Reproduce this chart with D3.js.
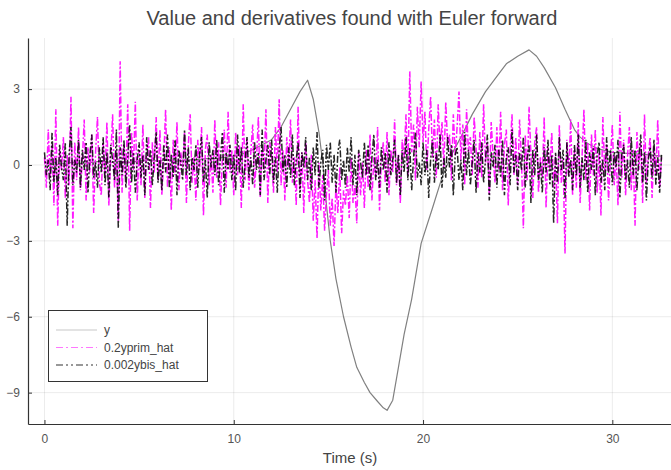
<!DOCTYPE html>
<html>
<head>
<meta charset="utf-8">
<script src="https://cdn.jsdelivr.net/npm/d3@7"></script>
<style>
  body { margin: 0; background: #fff; }
  text { font-family: "Liberation Sans", Arial, sans-serif; }
</style>
</head>
<body>
<div id="my_dataviz"></div>
<script>
// time step of the noisy series (s)
var dt = 0.1;

// y : times and values
var yTimes = [0, 0.5, 1, 1.5, 2, 2.5, 3, 3.5, 4, 4.5, 5, 5.5, 6, 6.5, 7, 7.5, 8, 8.5, 9, 9.5,
    10, 10.5, 11, 11.5, 12, 12.5, 13, 13.5, 13.9, 14.2, 14.5, 14.7, 14.9, 15.1, 15.4, 15.8,
    16.2, 16.5, 16.9, 17.2, 17.6, 17.9, 18.1, 18.4, 18.7, 19.0, 19.4, 19.9, 20.5, 21.0, 21.5,
    22.0, 22.6, 23.3, 24.0, 24.4, 25.0, 25.6, 26.0, 26.4, 27.0, 27.5, 28.0, 28.3, 28.7, 29.2,
    30, 31, 32, 32.6];
var yValues = [0.1, 0.0, 0.05, 0.1, 0.05, 0.1, 0.15, 0.1, 0.15, 0.1, 0.15, 0.2, 0.15, 0.2, 0.15, 0.2, 0.2, 0.25, 0.25, 0.3,
    0.35, 0.45, 0.6, 0.8, 1.0, 1.5, 2.2, 2.9, 3.35, 2.6, 1.3, 0.1, -1.6, -3.0, -4.5, -6.0,
    -7.2, -8.0, -8.6, -9.0, -9.35, -9.6, -9.7, -9.3, -8.0, -6.7, -5.3, -3.1, -1.7, -0.5, 0.4,
    1.1, 2.0, 2.9, 3.6, 4.0, 4.3, 4.55, 4.3, 3.85, 3.05, 2.2, 1.4, 1.1, 0.85, 0.65,
    0.5, 0.45, 0.4, 0.35];

// 0.2yprim_hat : one row per second
var yprimValues = [
    0.3, -0.9, 1.4, -0.5, 0.8, -1.6, 2.2, -2.4, 0.6, -0.2,
    1.1, -1.3, 0.4, -0.8, 2.7, -2.5, 0.9, -0.6, 1.5, -1.0,
    0.2, 1.8, -1.4, 0.7, -0.3, 1.2, -1.9, 0.5, 1.9, -0.7,
    -1.2, 0.9, -0.4, 1.7, -1.6, 0.3, 2.0, -0.9, 0.6, -2.2,
    4.1, -1.1, 0.8, -0.5, 2.4, -2.6, 1.3, -0.2, 2.5, -1.4,
    0.6, -0.8, 1.6, -1.3, 0.4, 1.1, -1.7, 0.9, -0.3, 1.9,
    -0.6, 1.4, -1.2, 0.2, 2.2, -0.9, 0.7, -1.8, 1.0, -0.4,
    1.7, -1.0, 0.5, -0.1, 1.3, -1.5, 0.8, 2.0, -0.7, 0.3,
    -1.4, 1.0, -0.2, 1.5, -2.0, 0.6, 1.2, -0.8, 0.4, -1.1,
    1.8, -0.5, 0.9, -1.6, 0.3, 1.4, -0.9, 2.1, -0.3, 0.6,
    -1.2, 1.3, -0.4, 0.8, -1.7, 2.4, -0.6, 1.0, -1.0, 0.5,
    1.6, -0.9, 0.2, 1.9, -1.3, 0.7, -0.2, 2.2, -1.5, 0.9,
    0.4, -1.1, 1.5, -0.3, 2.6, -0.8, 0.6, -1.4, 1.1, -0.1,
    1.8, -0.7, 0.3, -1.6, 2.3, -1.0, 0.5, -1.9, 0.9, -0.6,
    -1.5, 0.4, -2.2, -0.6, -2.9, 0.1, -1.8, -0.4, -2.6, -1.1,
    -0.2, -2.4, -1.3, -3.2, -0.7, -1.9, -0.1, -2.7, -1.0, -1.6,
    -0.4, -2.1, 0.3, -1.5, -0.8, -2.3, 0.5, -1.2, 0.1, -1.7,
    0.6, -0.9, 1.2, -1.4, 0.3, -0.5, 1.5, -1.8, 0.2, 0.9,
    -0.7, 1.3, -1.2, 0.6, -0.3, 1.8, -0.8, 0.4, -1.5, 1.0,
    0.3, 2.0, -0.4, 3.7, 0.5, 1.6, -0.6, 2.3, 0.7, 3.3,
    0.9, 2.1, -0.2, 1.4, 2.7, 0.3, 1.8, -0.5, 2.4, 0.6,
    1.7, -0.1, 2.5, 0.8, 1.2, -0.6, 2.0, 0.4, 1.5, 2.9,
    0.2, 1.6, -0.8, 2.2, 0.5, 1.1, -0.4, 1.9, 0.7, -0.9,
    1.3, -0.5, 2.4, 0.1, 0.9, -1.2, 1.7, 0.4, -0.7, 1.5,
    -0.3, 2.1, -1.0, 0.8, 1.4, -1.6, 0.6, 2.0, -0.4, 1.1,
    -0.8, 1.8, 0.2, -2.5, 1.2, -0.6, 2.3, 0.4, -1.3, 0.9,
    1.5, -1.1, 0.3, -0.5, 1.9, -1.7, 0.7, -0.2, 1.3, -0.9,
    0.4, -2.3, 1.6, -0.7, 0.2, -3.5, 1.0, -0.4, 1.8, -1.2,
    0.6, -0.9, 1.7, -1.5, 0.3, 2.2, -0.6, 0.9, -1.8, 1.2,
    -0.4, 1.4, -1.1, 0.5, -2.0, 1.9, -0.3, 0.8, -1.4, 0.2,
    1.6, -0.8, 0.4, -1.6, 2.1, -0.5, 1.0, -1.2, 0.3, 1.5,
    -1.0, 0.6, -2.4, 1.3, -0.2, 0.9, -1.5, 2.0, -0.7, 0.4,
    1.1, -1.3, 0.7, -0.4, 1.8, -0.9, 0.3];

// 0.002ybis_hat : one row per second
var ybisValues = [
    0.5, -0.4, 0.2, -1.0, 1.3, -0.7, 0.3, -1.2, 0.8, -0.1,
    -0.6, 0.9, -2.4, 0.4, 1.5, -0.8, 0.2, -0.3, 1.0, -0.9,
    0.6, -0.2, 0.9, -1.1, 0.4, 1.2, -0.5, 0.1, -0.9, 0.7,
    -0.3, 1.1, -0.8, 0.5, -1.3, 0.8, 0.2, -0.6, 1.4, -2.5,
    0.7, -0.4, 1.0, -0.9, 0.3, 1.6, -0.7, 0.5, -1.1, 0.2,
    0.9, -0.5, 0.4, -1.2, 1.1, -0.2, 0.6, -0.8, 0.3, 1.3,
    -0.7, 0.2, -1.0, 0.8, -0.3, 1.2, -0.9, 0.4, -0.5, 1.0,
    -1.2, 0.6, 0.1, -0.6, 1.4, -0.4, 0.7, -1.0, 0.3, -0.2,
    0.8, -0.9, 0.5, 1.1, -0.7, 0.2, -1.3, 0.9, -0.1, 0.6,
    -0.4, 1.0, -0.8, 0.3, 1.3, -1.1, 0.5, -0.2, 0.8, -0.6,
    0.4, -1.0, 1.2, -0.3, 0.7, -0.9, 0.1, 1.1, -0.5, 0.3,
    -0.8, 0.9, -0.2, 0.5, -1.2, 1.4, -0.6, 0.2, 0.8, -0.4,
    1.0, -0.7, 0.3, -1.1, 0.6, 1.5, -0.3, 0.4, -0.9, 0.7,
    -0.5, 1.2, -0.8, 0.2, 0.9, -1.3, 0.5, -0.1, 1.1, -0.6,
    0.3, -1.0, 0.7, -0.4, 1.3, -0.9, 0.1, 0.6, -1.4, 0.8,
    -0.2, 0.9, -0.7, 0.4, -1.1, 0.5, 1.0, -0.6, 0.2, -0.9,
    0.7, -0.3, 1.1, -0.8, 0.4, -1.2, 0.6, 0.1, -0.5, 0.9,
    -0.4, 0.8, -1.0, 0.3, 1.2, -0.6, 0.2, -0.9, 0.7, -0.2,
    0.5, -1.1, 0.9, -0.4, 0.2, 1.0, -0.7, 0.4, -1.2, 0.6,
    -0.3, 1.1, -0.6, 0.7, -1.0, 0.3, 1.3, -0.5, 0.1, -0.8,
    0.9, -0.4, 0.6, -1.3, 0.2, 1.0, -0.7, 0.5, -0.2, 1.2,
    -0.9, 0.3, -0.5, 1.1, -0.1, 0.8, -1.2, 0.4, 0.7, -0.6,
    0.2, -1.0, 1.3, -0.4, 0.6, -0.8, 0.1, 1.0, -1.1, 0.5,
    -0.3, 0.9, -0.7, 0.2, 1.2, -1.4, 0.5, -0.1, 0.8, -0.9,
    0.6, -0.5, 1.0, -1.2, 0.3, 0.7, -0.8, 1.4, -0.3, 0.4,
    -1.0, 0.5, -0.2, 1.1, -0.9, 0.3, 0.8, -1.5, 0.6, -0.4,
    1.2, -0.6, 0.1, -1.1, 0.7, -0.3, 1.0, -0.8, 0.4, -2.3,
    0.5, -0.7, 1.1, -0.2, 0.6, -1.3, 0.9, -0.5, 0.2, -1.0,
    0.8, -0.4, 1.2, -0.9, 0.3, -0.6, 1.0, -1.1, 0.5, -0.2,
    0.7, -1.2, 0.4, 0.9, -0.7, 0.2, -1.0, 1.1, -0.3, 0.6,
    -0.8, 0.5, -0.1, 1.0, -1.3, 0.4, 0.8, -0.6, 0.2, -0.9,
    1.1, -0.4, 0.6, -1.0, 0.3, 1.2, -0.7, 0.5, -1.4, 0.2,
    0.7, -0.5, 1.0, -0.8, 0.3, -1.1, 0.4];

var xTicks = [0, 10, 20, 30];
var yTicks = [3, 0, -3, -6, -9];
var legendLabels = ["y", "0.2yprim_hat", "0.002ybis_hat"];

var width = 671, height = 470;

var svg = d3.select("#my_dataviz")
    .append("svg")
    .attr("width", width)
    .attr("height", height);

// scales : plot area from the left axis to the right edge
var x = d3.scaleLinear().domain([-0.87, 33.1]).range([28, 671]);
var y = d3.scaleLinear().domain([-10.24, 5.02]).range([424, 38]);

// grid
svg.append("g").selectAll("line").data(xTicks).enter().append("line")
    .attr("x1", function (d) { return x(d); }).attr("x2", function (d) { return x(d); })
    .attr("y1", 38).attr("y2", 424)
    .style("stroke", "#000").style("stroke-opacity", 0.08);
svg.append("g").selectAll("line").data(yTicks).enter().append("line")
    .attr("x1", 28).attr("x2", 671)
    .attr("y1", function (d) { return y(d); }).attr("y2", function (d) { return y(d); })
    .style("stroke", "#000").style("stroke-opacity", 0.08);

// series
var line = d3.line()
    .x(function (d) { return x(d[0]); })
    .y(function (d) { return y(d[1]); });

var ySeries = yTimes.map(function (t, i) { return [t, yValues[i]]; });
var yprimSeries = yprimValues.map(function (v, i) { return [i * dt, v]; });
var ybisSeries = ybisValues.map(function (v, i) { return [i * dt, v]; });

svg.append("path").datum(ySeries)
    .attr("d", line)
    .style("fill", "none")
    .style("stroke", "#808080")
    .style("stroke-width", 1.2)
    .style("stroke-linejoin", "round");

svg.append("path").datum(yprimSeries)
    .attr("d", line)
    .style("fill", "none")
    .style("stroke", "#ff00ff")
    .style("stroke-opacity", 0.9)
    .style("stroke-width", 1.5)
    .style("stroke-dasharray", "7,2,2,2");

svg.append("path").datum(ybisSeries)
    .attr("d", line)
    .style("fill", "none")
    .style("stroke", "#000")
    .style("stroke-opacity", 0.85)
    .style("stroke-width", 1.5)
    .style("stroke-dasharray", "7,2,2,2,2,2");

// axes (left and bottom only, ticks pointing inside)
var xAxis = svg.append("g")
    .attr("transform", "translate(0,424)")
    .call(d3.axisBottom(x).tickValues(xTicks).tickSizeInner(-4).tickSizeOuter(0).tickPadding(10));
var yAxis = svg.append("g")
    .attr("transform", "translate(28,0)")
    .call(d3.axisLeft(y).tickValues(yTicks).tickSizeInner(-4).tickSizeOuter(0).tickPadding(8));

[xAxis, yAxis].forEach(function (a) {
    a.select(".domain").style("stroke", "#333").style("stroke-width", 1.2);
    a.selectAll(".tick line").style("stroke", "#333");
    a.selectAll(".tick text")
        .style("font-family", "Liberation Sans, Arial, sans-serif")
        .style("font-size", "12px")
        .style("fill", "#555");
});

// title and axis label
svg.append("text")
    .attr("x", 352).attr("y", 25)
    .style("text-anchor", "middle")
    .style("font-size", "20px")
    .style("fill", "#444")
    .text("Value and derivatives found with Euler forward");

svg.append("text")
    .attr("x", 350).attr("y", 463)
    .style("text-anchor", "middle")
    .style("font-size", "15px")
    .style("fill", "#444")
    .text("Time (s)");

// legend
var legend = svg.append("g");
legend.append("rect")
    .attr("x", 48.5).attr("y", 310.5)
    .attr("width", 159).attr("height", 71)
    .style("fill", "#fff")
    .style("stroke", "#333");

var legendStyles = [
    {color: "#c8c8c8", dash: null},
    {color: "#ff77ff", dash: "7,3,2,3"},
    {color: "#333", dash: "7,3,2,3,2,3"}
];

legendLabels.forEach(function (lab, i) {
    var ly = 330 + i * 17.5;
    legend.append("line")
        .attr("x1", 56).attr("x2", 97)
        .attr("y1", ly).attr("y2", ly)
        .style("stroke", legendStyles[i].color)
        .style("stroke-width", 1.2)
        .style("stroke-dasharray", legendStyles[i].dash);
    legend.append("text")
        .attr("x", 104).attr("y", ly + 4)
        .style("font-size", "12px")
        .style("fill", "#444")
        .text(lab);
});
</script>
</body>
</html>
